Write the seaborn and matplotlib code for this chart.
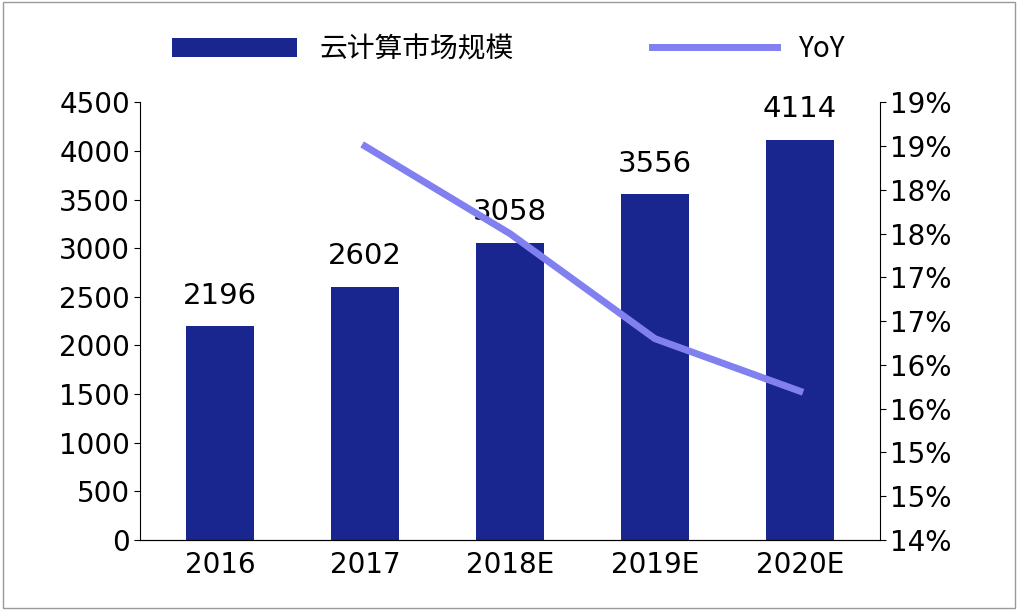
import matplotlib
matplotlib.use("Agg")
import matplotlib.pyplot as plt
from matplotlib import font_manager
import seaborn as sns
import pandas as pd
import numpy as np
from matplotlib.ticker import FuncFormatter

# find a CJK font by file in case the family name doesn't resolve
cjk = [f for f in font_manager.findSystemFonts() if 'CJK' in f or 'cjk' in f.lower()]
cjk_family = 'Noto Sans CJK SC'
if cjk:
    font_manager.fontManager.addfont(cjk[0])
    cjk_family = font_manager.FontProperties(fname=cjk[0]).get_name()
plt.rcParams['font.family'] = ['DejaVu Sans', cjk_family]

years = ['2016', '2017', '2018E', '2019E', '2020E']
market = [2196, 2602, 3058, 3556, 4114]
yoy = [None, 18.5, 17.5, 16.3, 15.7]

df = pd.DataFrame({'year': years, 'market': market, 'yoy': yoy})

fig = plt.figure(figsize=(10.18, 6.1), dpi=100)
ax = fig.add_axes([0.138, 0.115, 0.726, 0.717])

sns.barplot(data=df, x='year', y='market', color='#1a2690', width=0.47, ax=ax,
            saturation=1, label='云计算市场规模')
for i, v in enumerate(market):
    ax.text(i, v + 170, str(v), ha='center', va='bottom', fontsize=21)

ax.set_ylim(0, 4500)
ax.set_yticks(np.arange(0, 4501, 500))
ax.set_xlabel('')
ax.set_ylabel('')
ax.tick_params(axis='both', labelsize=20, length=4)
ax.tick_params(axis='x', length=0, pad=8)
for s in ['top', 'right']:
    ax.spines[s].set_visible(False)

ax2 = ax.twinx()
sns.lineplot(x=[1, 2, 3, 4], y=yoy[1:], color='#8080f0', linewidth=5, ax=ax2,
             label='YoY')
ax2.set_ylim(14, 19)
ax2.set_yticks(np.arange(14, 19.01, 0.5))
ax2.yaxis.set_major_formatter(FuncFormatter(lambda v, p: f'{int(np.floor(v + 0.5))}%'))
ax2.tick_params(axis='y', labelsize=20, length=4)
ax2.set_ylabel('')
for s in ['top', 'left']:
    ax2.spines[s].set_visible(False)
ax.set_xlim(-0.55, 4.55)

h1, l1 = ax.get_legend_handles_labels()
h2, l2 = ax2.get_legend_handles_labels()
if ax.get_legend():
    ax.get_legend().remove()
if ax2.get_legend():
    ax2.get_legend().remove()
fig.legend(h1 + h2, l1 + l2, loc='upper center', bbox_to_anchor=(0.5, 0.985), ncol=2,
           frameon=False, handlelength=4.5, columnspacing=5,
           prop=font_manager.FontProperties(family=[cjk_family, 'DejaVu Sans'], size=20))

fig.patches.append(plt.Rectangle((0.003, 0.003), 0.994, 0.994, transform=fig.transFigure,
                                 fill=False, edgecolor='#999999', linewidth=1))
fig.savefig('out.png', dpi=100)
